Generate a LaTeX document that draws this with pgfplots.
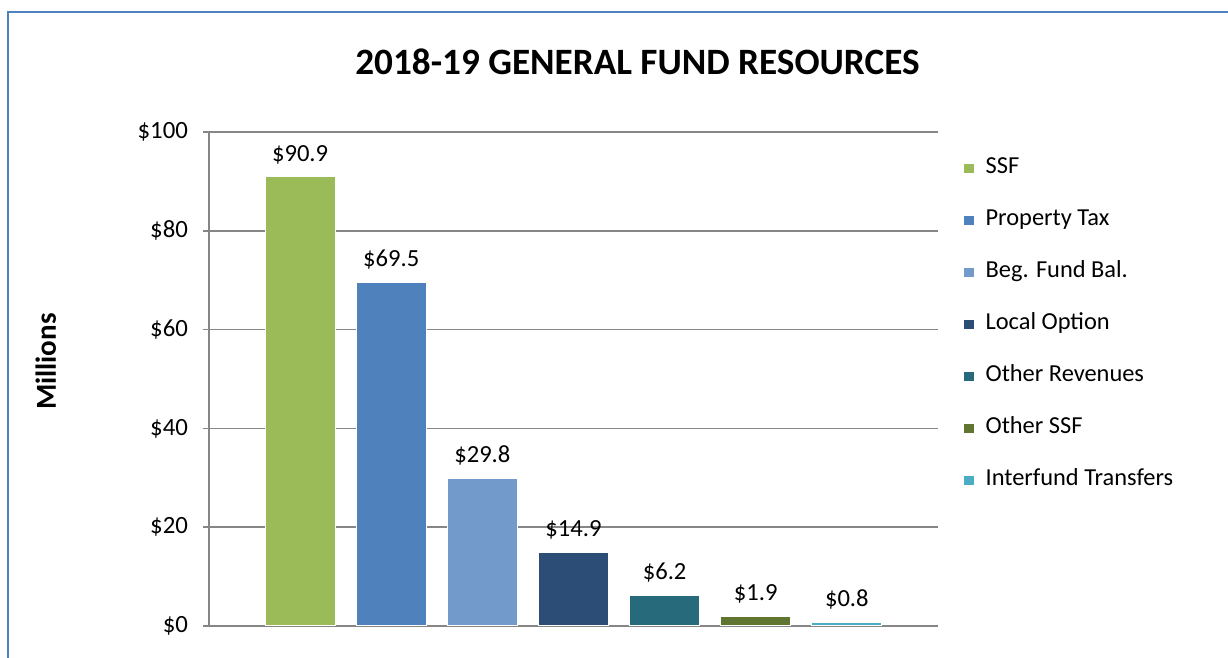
\documentclass[border=0pt]{standalone}
\usepackage{fontspec}
\setmainfont{Carlito}
\usepackage{pgfplots}
\pgfplotsset{compat=1.18}
\definecolor{cSSF}{HTML}{9BBB59}
\definecolor{cProp}{HTML}{4F81BD}
\definecolor{cBeg}{HTML}{729ACA}
\definecolor{cLocal}{HTML}{2C4D75}
\definecolor{cOtherRev}{HTML}{276A7C}
\definecolor{cOtherSSF}{HTML}{5F7530}
\definecolor{cInter}{HTML}{4BACC6}
\definecolor{axgray}{HTML}{868686}
\definecolor{frameblue}{HTML}{4F81BD}
\begin{document}
\begin{tikzpicture}[x=1pt,y=1pt]
\draw[frameblue, line width=0.8pt] (4pt,-20pt) -- (4pt,323pt) -- (640pt,323pt);
\node[font=\bfseries\fontsize{18.6}{22}\selectfont, anchor=base] at (318.75pt,291.5pt) {2018-19 GENERAL FUND RESOURCES};
\begin{axis}[
  at={(104.5pt,16pt)}, anchor=south west,
  scale only axis, width=364.5pt, height=247pt,
  xmin=-1, xmax=7, ymin=0, ymax=100,
  ytick={0,20,...,100}, xtick=\empty,
  axis x line=bottom, axis y line=left,
  axis line style={-, draw=axgray, line width=1.1pt},
  ymajorgrids, grid style={axgray, line width=0.8pt},
  major tick length=3pt, tick style={axgray, line width=0.8pt},
  tick align=outside,
  yticklabel={\$\pgfmathprintnumber{\tick}},
  /pgf/number format/assume math mode=true,
  ticklabel style={font=\fontsize{12.4}{14}\selectfont},
  yticklabel style={xshift=-4pt},
  ylabel={Millions},
  every axis y label/.style={at={(axis description cs:-0.224,0.535)}, rotate=90, anchor=center, font=\bfseries\fontsize{14.5}{16}\selectfont},
  ybar, bar width=35pt, bar shift=0pt,
  every axis plot/.append style={draw=white, line width=0.5pt},
  nodes near coords={\$\pgfmathprintnumber[fixed,precision=1,fixed zerofill]{\pgfplotspointmeta}},
  nodes near coords style={font=\fontsize{12.3}{14}\selectfont, black, yshift=3pt},
  legend image code/.code={\draw[#1, draw=none] (0pt,-2.3pt) rectangle (4.6pt,2.3pt);},
  legend cell align=left,
  legend style={at={(axis description cs:1.0357,0.945)}, anchor=north west, draw=none, fill=none, inner sep=0pt,
    font=\fontsize{12.2}{14}\selectfont, row sep=17pt,
    nodes={inner sep=0pt, text height=7pt, text depth=2pt},
    /tikz/every odd column/.append style={column sep=6pt}},
]
\addplot[fill=cSSF] coordinates {(0,90.9)};
\addlegendentry{SSF}
\addplot[fill=cProp] coordinates {(1,69.5)};
\addlegendentry{Property Tax}
\addplot[fill=cBeg] coordinates {(2,29.8)};
\addlegendentry{Beg. Fund Bal.}
\addplot[fill=cLocal] coordinates {(3,14.9)};
\addlegendentry{Local Option}
\addplot[fill=cOtherRev] coordinates {(4,6.2)};
\addlegendentry{Other Revenues}
\addplot[fill=cOtherSSF] coordinates {(5,1.9)};
\addlegendentry{Other SSF}
\addplot[fill=cInter] coordinates {(6,0.8)};
\addlegendentry{Interfund Transfers}
\end{axis}
\pgfresetboundingbox
\useasboundingbox (0,0) rectangle (614pt,329pt);
\end{tikzpicture}
\end{document}
